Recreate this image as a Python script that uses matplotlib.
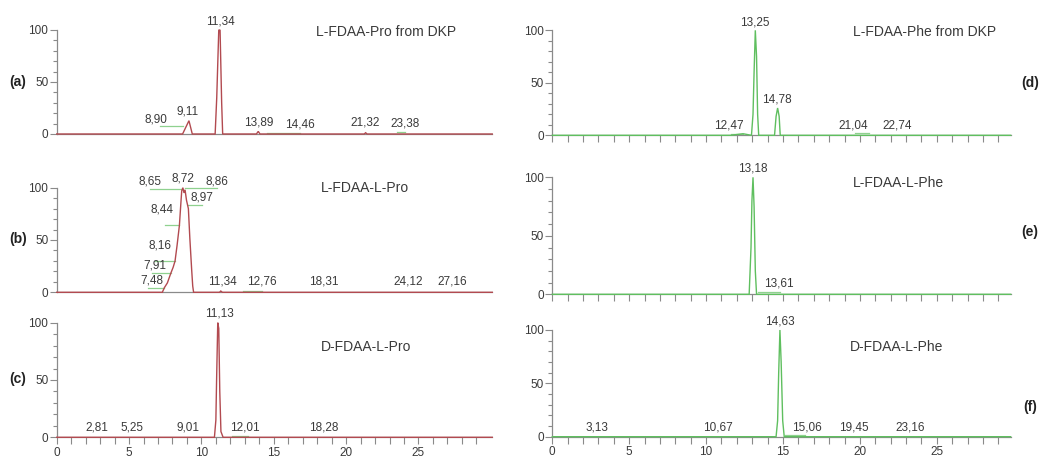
import matplotlib
matplotlib.use("Agg")
import matplotlib.pyplot as plt
from matplotlib.ticker import MultipleLocator, FixedLocator

plt.rcParams['font.family'] = ['Liberation Sans', 'DejaVu Sans']

# ---- traces (retention time [min], relative abundance [%]) ----
a_x = [0, 8.70, 9.14, 9.37, 10.95, 11.06, 11.20, 11.29, 11.40, 11.47, 13.80, 13.93, 14.05, 21.25, 21.35, 21.45, 30.1]
a_y = [0, 0, 12.8, 0, 0, 35, 100, 100, 30, 0, 0, 2.5, 0, 0, 1.2, 0, 0]

b_x = [0, 7.30, 7.44, 7.65, 7.88, 8.05, 8.18, 8.32, 8.48, 8.58, 8.64, 8.72, 8.80, 8.87,
       8.97, 9.10, 9.20, 9.33, 9.40, 9.46, 11.25, 11.34, 11.45, 30.1]
b_y = [0, 0, 4.4, 9, 18, 24, 30, 45, 64, 85, 97, 100, 95, 98,
       88, 80, 52, 21, 6, 0, 0, 1.2, 0, 0]

c_x = [0, 10.90, 11.00, 11.05, 11.13, 11.20, 11.27, 11.35, 11.50, 30.1]
c_y = [0, 0, 15, 50, 100, 95, 40, 5, 0, 0]

d_x = [0, 11.60, 12.40, 12.95, 13.05, 13.12, 13.20, 13.28, 13.35, 13.42,
       14.45, 14.55, 14.65, 14.75, 14.82, 29.8]
d_y = [0, 0, 1.5, 0, 20, 60, 100, 75, 20, 0,
       0, 18, 26, 18, 0, 0]

e_x = [0, 12.80, 12.92, 12.98, 13.05, 13.12, 13.20, 13.28, 29.8]
e_y = [0, 0, 40, 80, 100, 75, 20, 0, 0]

f_x = [0, 14.55, 14.65, 14.72, 14.80, 14.88, 14.98, 15.08, 29.8]
f_y = [0, 0, 15, 60, 100, 70, 15, 0, 0]

# ---- peak labels: (text, x, y of label bottom) ----
a_labels = [("11,34", 11.30, 102), ("9,11", 9.03, 16), ("8,90", 6.86, 8.5),
            ("13,89", 13.93, 5), ("14,46", 16.8, 3.8), ("21,32", 21.3, 5), ("23,38", 24.07, 4.5)]
b_labels = [("8,65", 6.45, 100), ("8,72", 8.75, 103), ("8,86", 11.06, 100), ("8,97", 10.06, 85),
            ("8,44", 7.30, 73), ("8,16", 7.14, 39), ("7,91", 6.79, 20), ("7,48", 6.56, 6),
            ("11,34", 11.47, 4.5), ("12,76", 14.17, 4.5), ("18,31", 18.43, 4.5),
            ("24,12", 24.3, 4.5), ("27,16", 27.37, 4.5)]
c_labels = [("11,13", 11.22, 103), ("2,81", 2.76, 3.5), ("5,25", 5.23, 3.5), ("9,01", 9.10, 3.5),
            ("12,01", 13.0, 3.5), ("18,28", 18.43, 3.5)]
d_labels = [("13,25", 13.18, 102), ("14,78", 14.59, 28.5), ("12,47", 11.5, 4),
            ("21,04", 19.6, 4), ("22,74", 22.4, 4)]
e_labels = [("13,18", 13.05, 102), ("13,61", 14.7, 3.7)]
f_labels = [("14,63", 14.80, 102), ("3,13", 2.93, 3.1), ("10,67", 10.8, 3.1),
            ("15,06", 16.53, 3.1), ("19,45", 19.6, 3.1), ("23,16", 23.3, 3.1)]

# ---- green label leader lines: (x0, x1, y) ----
a_leaders = [(7.15, 8.72, 7.5), (14.5, 16.8, 1.3), (23.5, 24.1, 1.5)]
b_leaders = [(6.33, 7.44, 4.4), (6.56, 7.88, 18), (6.79, 8.18, 30), (7.49, 8.48, 64),
             (6.45, 8.64, 98.5), (8.87, 11.06, 99.5), (9.10, 10.02, 83.5), (12.9, 14.17, 1)]
c_leaders = [(12.1, 13.24, 1)]
d_leaders = [(11.6, 12.4, 1.5), (19.7, 20.6, 2)]
e_leaders = [(13.4, 14.8, 2)]
f_leaders = [(15.12, 16.4, 1.5)]

titles = ["L-FDAA-Pro from DKP", "L-FDAA-L-Pro", "D-FDAA-L-Pro",
          "L-FDAA-Phe from DKP", "L-FDAA-L-Phe", "D-FDAA-L-Phe"]
title_pos = [(22.75, 98), (21.3, 100), (21.4, 79), (24.2, 98), (22.5, 95), (22.4, 84)]
letters = ["(a)", "(b)", "(c)", "(d)", "(e)", "(f)"]
letter_pos = [(18, 82), (18, 239), (18, 379), (1030, 83), (1030, 232), (1030, 407)]

x_major = [0, 5, 10, 15, 20, 25]
x_minor = list(range(0, 30))

RED = "#b24a50"
GREEN = "#5fbf5f"
LEAD = "#8fd18f"
TXT = "#3a3a3a"

W, H = 1048, 459
fig = plt.figure(figsize=(W / 100, H / 100), dpi=100)


def px_axes(x0, y0_px, width_px, height_px):
    # y0_px is the pixel row of the y=0 line
    return fig.add_axes([x0 / W, 1 - y0_px / H, width_px / W, height_px / H])


def draw_panel(ax, xs, ys, color, labels, leaders, title, tpos, xmax, xticks, xlabels):
    ax.plot(xs, ys, color=color, lw=1.0, solid_joinstyle='miter', clip_on=False, zorder=3)
    for x0, x1, y in leaders:
        ax.plot([x0, x1], [y, y], color=LEAD, lw=0.9, clip_on=False, zorder=2)
    for txt, x, y in labels:
        ax.text(x, y, txt, ha='center', va='bottom', fontsize=8.5, color=TXT, clip_on=False)
    ax.text(tpos[0], tpos[1], title, ha='center', va='center', fontsize=10, color=TXT)

    ax.set_xlim(0, xmax)
    ax.set_ylim(0, 100)
    for s in ['top', 'right']:
        ax.spines[s].set_visible(False)
    for s in ['left', 'bottom']:
        ax.spines[s].set_color('#8a8a8a')
        ax.spines[s].set_linewidth(0.9)
    ax.yaxis.set_major_locator(MultipleLocator(50))
    ax.yaxis.set_minor_locator(MultipleLocator(10))
    ax.tick_params(axis='y', which='major', length=5, width=0.8, color='#8a8a8a',
                   labelsize=8.5, labelcolor=TXT, pad=1)
    ax.tick_params(axis='y', which='minor', length=3, width=0.8, color='#8a8a8a')
    if xticks:
        ax.xaxis.set_major_locator(FixedLocator(x_major))
        ax.xaxis.set_minor_locator(FixedLocator(x_minor))
        ax.tick_params(axis='x', which='both', length=5, width=0.8, color='#8a8a8a',
                       labelsize=8.5, labelcolor=TXT, pad=2)
        if not xlabels:
            ax.tick_params(axis='x', which='both', labelbottom=False)
    else:
        ax.set_xticks([])
    ax.patch.set_alpha(0)


# left column (Pro)
ax_a = px_axes(56.7, 134.0, 30.1 * 14.47, 104.0)
ax_b = px_axes(56.7, 292.3, 30.1 * 14.47, 104.6)
ax_c = px_axes(56.7, 437.3, 30.1 * 14.47, 114.6)
# right column (Phe)
ax_d = px_axes(552.3, 135.3, 29.8 * 15.38, 105.0)
ax_e = px_axes(552.3, 294.3, 29.8 * 15.38, 117.0)
ax_f = px_axes(552.3, 436.7, 29.8 * 15.38, 106.7)

draw_panel(ax_a, a_x, a_y, RED, a_labels, a_leaders, titles[0], title_pos[0], 30.1, False, False)
draw_panel(ax_b, b_x, b_y, RED, b_labels, b_leaders, titles[1], title_pos[1], 30.1, False, False)
draw_panel(ax_c, c_x, c_y, RED, c_labels, c_leaders, titles[2], title_pos[2], 30.1, True, True)
draw_panel(ax_d, d_x, d_y, GREEN, d_labels, d_leaders, titles[3], title_pos[3], 29.8, True, False)
draw_panel(ax_e, e_x, e_y, GREEN, e_labels, e_leaders, titles[4], title_pos[4], 29.8, True, False)
draw_panel(ax_f, f_x, f_y, GREEN, f_labels, f_leaders, titles[5], title_pos[5], 29.8, True, True)

for lab, (px, py) in zip(letters, letter_pos):
    fig.text(px / W, 1 - py / H, lab, ha='center', va='center', fontsize=10,
             fontweight='bold', color='#222222')

fig.savefig("out.png", dpi=100, facecolor='white')
